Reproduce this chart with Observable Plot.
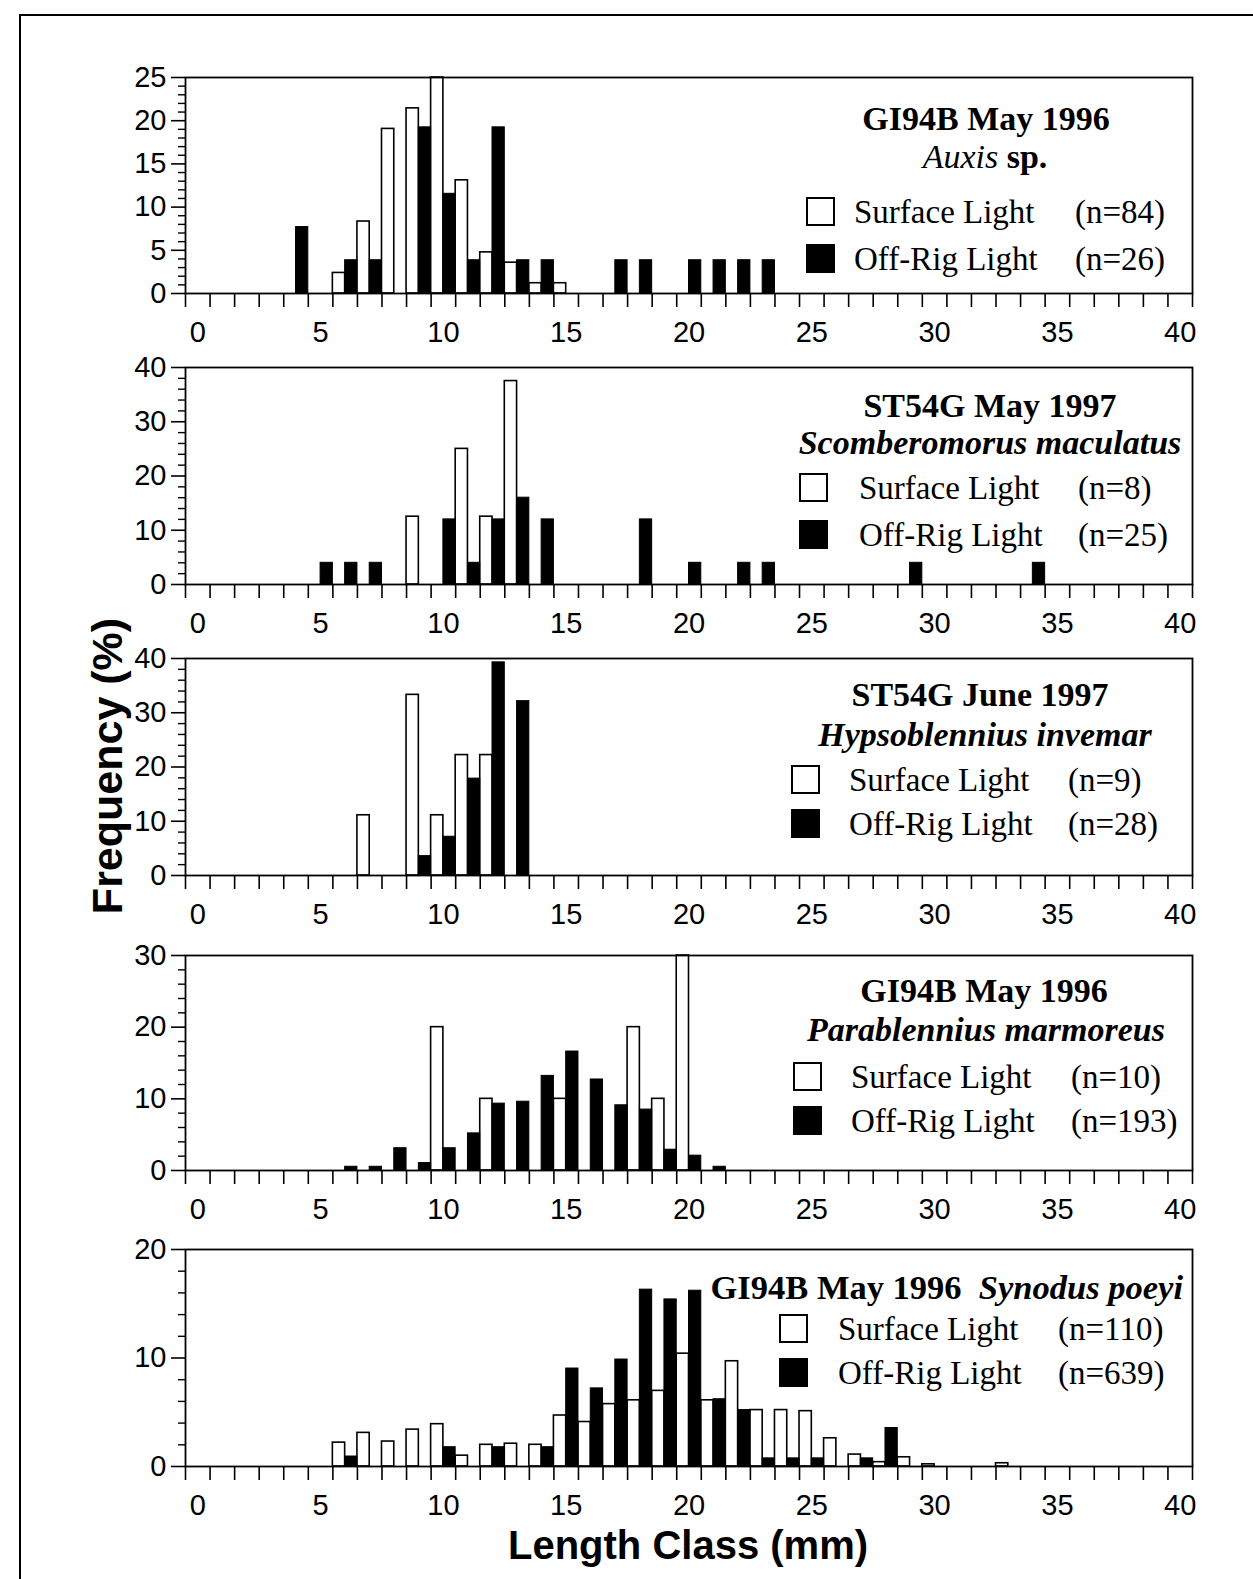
<!DOCTYPE html>
<html>
<head>
<meta charset="utf-8">
<script src="https://cdn.jsdelivr.net/npm/d3@7"></script>
<script src="https://cdn.jsdelivr.net/npm/@observablehq/plot@0.6"></script>
<style>
  html, body { margin: 0; padding: 0; background: #fff; }
  #wrap { position: relative; width: 1253px; height: 1579px; overflow: hidden; background: #fff; }
  #border { position: absolute; left: 19px; top: 14px; width: 1400px; height: 1700px; border-left: 2px solid #000; border-top: 2px solid #000; }
  .panel { position: absolute; left: 0; }
  .serif { position: absolute; font-family: "Liberation Serif", "Times New Roman", serif; font-size: 33px; color: #000; white-space: nowrap; line-height: 1; }
  .title { font-weight: bold; font-size: 34px; transform: translateX(-50%); }
  .box { position: absolute; width: 29px; height: 29px; border: 2px solid #000; box-sizing: border-box; }
  .box.black { background: #000; }
  .ylab { position: absolute; font-family: "Liberation Sans", Arial, sans-serif; font-weight: bold; font-size: 43px; line-height: 1; white-space: nowrap; transform: translate(-50%, -50%) rotate(-90deg); }
  .xlab { position: absolute; font-family: "Liberation Sans", Arial, sans-serif; font-weight: bold; font-size: 40px; line-height: 1; white-space: nowrap; transform: translateX(-50%); }
</style>
</head>
<body>
<div id="wrap"><div id="border"></div></div>
<script>
// ---- Data (percent frequency by length class, mm) ----
// Panel 1: GI94B May 1996, Auxis sp.
const auxisSurfaceClass = [6, 7, 8, 9, 10, 11, 12, 13, 14, 15];
const auxisSurfacePct   = [2.38, 8.33, 19.05, 21.43, 25.0, 13.1, 4.76, 3.57, 1.19, 1.19];
const auxisOffRigClass  = [4, 6, 7, 9, 10, 11, 12, 13, 14, 17, 18, 20, 21, 22, 23];
const auxisOffRigPct    = [7.69, 3.85, 3.85, 19.23, 11.54, 3.85, 19.23, 3.85, 3.85, 3.85, 3.85, 3.85, 3.85, 3.85, 3.85];

// Panel 2: ST54G May 1997, Scomberomorus maculatus
const scomSurfaceClass = [9, 11, 12, 13];
const scomSurfacePct   = [12.5, 25, 12.5, 37.5];
const scomOffRigClass  = [5, 6, 7, 10, 11, 12, 13, 14, 18, 20, 22, 23, 29, 34];
const scomOffRigPct    = [4, 4, 4, 12, 4, 12, 16, 12, 12, 4, 4, 4, 4, 4];

// Panel 3: ST54G June 1997, Hypsoblennius invemar
const hypsSurfaceClass = [7, 9, 10, 11, 12];
const hypsSurfacePct   = [11.1, 33.3, 11.1, 22.2, 22.2];
const hypsOffRigClass  = [9, 10, 11, 12, 13];
const hypsOffRigPct    = [3.57, 7.14, 17.86, 39.29, 32.14];

// Panel 4: GI94B May 1996, Parablennius marmoreus
const paraSurfaceClass = [10, 12, 15, 18, 19, 20];
const paraSurfacePct   = [20, 10, 10, 20, 10, 30];
const paraOffRigClass  = [6, 7, 8, 9, 10, 11, 12, 13, 14, 15, 16, 17, 18, 19, 20, 21];
const paraOffRigPct    = [0.52, 0.52, 3.11, 1.04, 3.11, 5.18, 9.33, 9.6, 13.2, 16.6, 12.7, 9.1, 8.5, 2.9, 2.07, 0.52];

// Panel 5: GI94B May 1996, Synodus poeyi
const synoSurfaceClass = [6, 7, 8, 9, 10, 11, 12, 13, 14, 15, 16, 17, 18, 19, 20, 21, 22, 23, 24, 25, 26, 27, 28, 29, 30, 33];
const synoSurfacePct   = [2.2, 3.1, 2.3, 3.4, 3.9, 1.0, 2.0, 2.1, 2.0, 4.7, 4.1, 5.75, 6.1, 6.97, 10.4, 6.1, 9.7, 5.2, 5.2, 5.1, 2.6, 1.1, 0.4, 0.85, 0.2, 0.3];
const synoOffRigClass  = [6, 10, 12, 14, 15, 16, 17, 18, 19, 20, 21, 22, 23, 24, 25, 27, 28];
const synoOffRigPct    = [0.92, 1.78, 1.78, 1.78, 9.03, 7.2, 9.86, 16.3, 15.4, 16.2, 6.2, 5.2, 0.75, 0.75, 0.75, 0.75, 3.55];

const xTickLabels = [0, 5, 10, 15, 20, 25, 30, 35, 40];
const seriesNames = ["Surface Light", "Off-Rig Light"];

// ---- Layout ----
const W = 1253, ML = 185, MR = 1253 - 1192, MT = 12, MB = 60;
const panels = [
  { top: 77, h: 216, ymax: 25, major: 5, minor: 1,
    s: [auxisSurfaceClass, auxisSurfacePct], o: [auxisOffRigClass, auxisOffRigPct],
    n: ["(n=84)", "(n=26)"],
    title: { cx: 986, y: 102, html: "GI94B May 1996" },
    species: { cx: 985, y: 140, html: "<i>Auxis</i> <b>sp.</b>" },
    leg: { boxX: 806, textX: 854, nX: 1075, y1: 197, y2: 244 } },
  { top: 367, h: 217, ymax: 40, major: 10, minor: 2,
    s: [scomSurfaceClass, scomSurfacePct], o: [scomOffRigClass, scomOffRigPct],
    n: ["(n=8)", "(n=25)"],
    title: { cx: 990, y: 389, html: "ST54G May 1997" },
    species: { cx: 990, y: 426, html: "<b><i>Scomberomorus maculatus</i></b>" },
    leg: { boxX: 799, textX: 859, nX: 1078, y1: 473, y2: 520 } },
  { top: 658, h: 217, ymax: 40, major: 10, minor: 2,
    s: [hypsSurfaceClass, hypsSurfacePct], o: [hypsOffRigClass, hypsOffRigPct],
    n: ["(n=9)", "(n=28)"],
    title: { cx: 980, y: 678, html: "ST54G June 1997" },
    species: { cx: 985, y: 718, html: "<b><i>Hypsoblennius invemar</i></b>" },
    leg: { boxX: 791, textX: 849, nX: 1068, y1: 765, y2: 809 } },
  { top: 955, h: 215, ymax: 30, major: 10, minor: 2,
    s: [paraSurfaceClass, paraSurfacePct], o: [paraOffRigClass, paraOffRigPct],
    n: ["(n=10)", "(n=193)"],
    title: { cx: 984, y: 974, html: "GI94B May 1996" },
    species: { cx: 986, y: 1013, html: "<b><i>Parablennius marmoreus</i></b>" },
    leg: { boxX: 793, textX: 851, nX: 1071, y1: 1062, y2: 1106 } },
  { top: 1249, h: 217, ymax: 20, major: 10, minor: 2,
    s: [synoSurfaceClass, synoSurfacePct], o: [synoOffRigClass, synoOffRigPct],
    n: ["(n=110)", "(n=639)"],
    title: { right: 1183, y: 1270, html: "GI94B May 1996&nbsp; <i>Synodus poeyi</i>" },
    species: null,
    leg: { boxX: 779, textX: 838, nX: 1058, y1: 1314, y2: 1358 } }
];

const wrap = document.getElementById("wrap");
function addDiv(cls, style, html) {
  const d = document.createElement("div");
  d.className = cls;
  Object.assign(d.style, style);
  if (html != null) d.innerHTML = html;
  wrap.appendChild(d);
  return d;
}

for (const p of panels) {
  const surf = p.s[0].map((c, i) => ({ c, v: p.s[1][i] }));
  const off = p.o[0].map((c, i) => ({ c, v: p.o[1][i] }));
  const majors = d3.range(0, p.ymax + 1e-9, p.major);
  const minors = d3.range(0, p.ymax + 1e-9, p.minor).filter(v => Math.abs(v / p.major - Math.round(v / p.major)) > 1e-6);
  const svg = Plot.plot({
    width: W,
    height: MT + p.h + MB,
    marginLeft: ML, marginRight: MR, marginTop: MT, marginBottom: MB,
    style: { fontFamily: "'Liberation Sans', Arial, sans-serif", fontSize: "29px", color: "#000", background: "transparent", overflow: "visible" },
    x: { domain: [-0.5, 40.5] },
    y: { domain: [0, p.ymax] },
    marks: [
      Plot.rectY(surf, { x1: d => d.c - 0.5, x2: d => d.c, y1: 0, y2: "v", fill: "#fff", stroke: "#000", strokeWidth: 1.6 }),
      Plot.rectY(off, { x1: d => d.c, x2: d => d.c + 0.5, y1: 0, y2: "v", fill: "#000", stroke: "#000", strokeWidth: 1 }),
      Plot.frame({ stroke: "#000", strokeWidth: 1.8 }),
      Plot.axisX({ ticks: d3.range(-0.5, 41, 1), tickSize: 14, strokeWidth: 1.6, tickFormat: () => "", label: null }),
      Plot.axisX({ ticks: xTickLabels, tickSize: 0, tickPadding: 28, fontSize: 29, label: null }),
      Plot.axisY({ ticks: majors, tickSize: 14, tickPadding: 5, strokeWidth: 1.6, fontSize: 29, label: null }),
      Plot.axisY({ ticks: minors, tickSize: 7, strokeWidth: 1.4, tickFormat: () => "", label: null })
    ]
  });
  svg.classList.add("panel");
  svg.style.top = (p.top - MT) + "px";
  wrap.appendChild(svg);

  // in-panel labels and legend
  if (p.title.right != null) {
    addDiv("serif", { right: (W - p.title.right) + "px", top: p.title.y + "px", fontWeight: "bold", fontSize: "34.5px" }, p.title.html);
  } else {
    addDiv("serif title", { left: p.title.cx + "px", top: p.title.y + "px" }, p.title.html);
  }
  if (p.species) {
    addDiv("serif", { left: p.species.cx + "px", top: p.species.y + "px", transform: "translateX(-50%)", fontSize: "34px" }, p.species.html);
  }
  const rows = [p.leg.y1, p.leg.y2];
  rows.forEach((y, i) => {
    addDiv("box" + (i === 1 ? " black" : ""), { left: p.leg.boxX + "px", top: y + "px" });
    addDiv("serif", { left: p.leg.textX + "px", top: (y - 1) + "px" }, seriesNames[i]);
    addDiv("serif", { left: p.leg.nX + "px", top: (y - 1) + "px" }, p.n[i]);
  });
}

addDiv("ylab", { left: "107px", top: "766px" }, "Frequency (%)");
addDiv("xlab", { left: "688px", top: "1525px" }, "Length Class (mm)");
</script>
</body>
</html>
